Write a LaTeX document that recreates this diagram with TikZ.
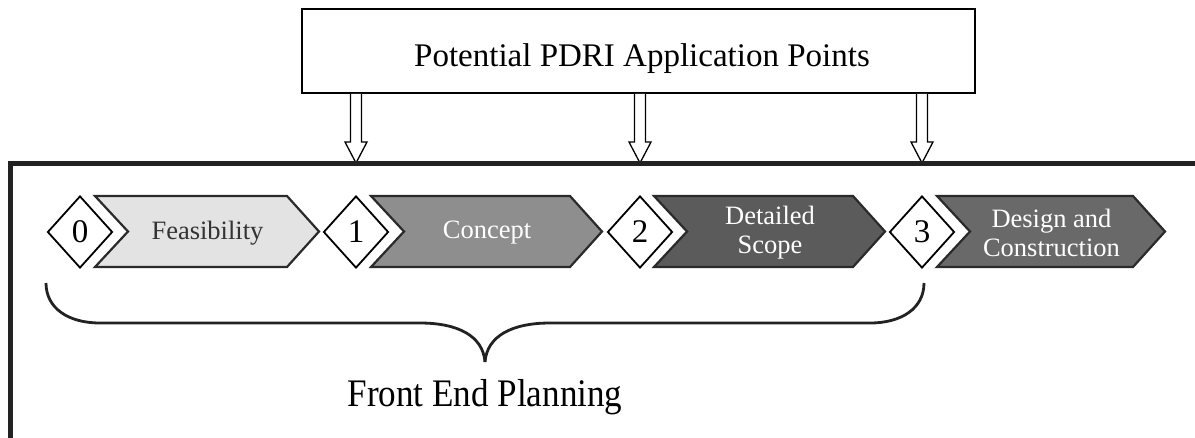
\documentclass[tikz,border=0pt]{standalone}
\usepackage{fontspec}
\setmainfont{Liberation Serif}
\newfontfamily\narrowserif[FakeStretch=0.9]{Liberation Serif}
\usetikzlibrary{shapes.geometric,calc}

\definecolor{phaseline}{HTML}{2A2A2A}
\definecolor{framegray}{HTML}{222222}
\definecolor{feasfill}{HTML}{E3E3E3}
\definecolor{conceptfill}{HTML}{8E8E8E}
\definecolor{scopefill}{HTML}{5B5B5B}
\definecolor{buildfill}{HTML}{696969}
\definecolor{darktext}{HTML}{333333}

% chevron: #1 name, #2 left x, #3 right corner x, #4 fill, #5 text colour, #6 label
\newcommand\phasechevron[6]{%
  \draw[phase, fill=#4] (#2,196) -- (#3,196) -- ({#3+32},231.5) -- (#3,267)
    -- (#2,267) -- ({#2+33},231.5) -- cycle;
  \node[phaselabel, text=#5] (#1) at ({(#2+33+#3)/2},233) {#6};}

% hollow double-shafted arrow from #1 (top of shaft) down to #2 (tip)
\newcommand\hollowarrow[2]{%
  \draw[hollow] ($(#1)+(-5.5,0)$) -- ($(#2)+(-5.5,-21)$) -- ($(#2)+(-11,-21)$)
    -- (#2) -- ($(#2)+(11,-21)$) -- ($(#2)+(5.5,-21)$) -- ($(#1)+(5.5,0)$);}

\begin{document}
\begin{tikzpicture}[x=1pt,y=-1pt,
  phase/.style={draw=phaseline, line width=2.2pt, line join=miter},
  marker/.style={diamond, draw=black, fill=white, line width=1.8pt,
    minimum width=65pt, minimum height=72pt, inner sep=0pt,
    font=\fontsize{33}{33}\selectfont},
  phaselabel/.style={align=center, inner sep=0pt,
    font=\fontsize{26.5}{29}\selectfont},
  hollow/.style={draw=black, fill=white, line width=1.3pt, line join=miter},
  frameline/.style={draw=framegray, line width=5pt, line join=miter},
  bracket/.style={draw=framegray, line width=2.8pt},
]
\useasboundingbox (0,0) rectangle (1195,437);

% title box
\node[draw, line width=1.5pt, minimum width=673pt, minimum height=84pt,
  inner sep=0pt] (pdri) at (638.5,51) {};
\node[anchor=base, inner sep=0pt, font=\fontsize{33}{33}\selectfont]
  (pdrititle) at (642,66) {Potential PDRI Application Points};

% phase markers
\node[marker] (d0) at (80,232) {0};
\node[marker] (d1) at (356,232) {1};
\node[marker] (d2) at (640,232) {2};
\node[marker] (d3) at (922,232) {3};

% phases
\phasechevron{feas}{95}{287}{feasfill}{darktext}{Feasibility}
\phasechevron{concept}{371}{570}{conceptfill}{white}{Concept}
\phasechevron{scope}{654}{853}{scopefill}{white}{Detailed\\Scope}
\phasechevron{build}{937}{1133}{buildfill}{white}{Design and\\Construction}

% frame
\coordinate (ftl) at (10.5,163);
\coordinate (ftr) at (1200,163);
\coordinate (fbl) at (10.5,440);

% application arrows
\foreach \d in {d1,d2,d3}{
  \hollowarrow{pdri.south -| \d}{ftl -| \d}
}

\draw[frameline] (fbl) -- (ftl) -- (ftr);

% front end planning bracket
\coordinate (braceL) at (46,283);
\coordinate (braceR) at (924,283);
\coordinate (braceTip) at (485,362);
\draw[bracket] (braceL) .. controls (46,308) and (68,323) .. (100,323) -- (420,323)
  .. controls (458,323) and (483,336) .. (braceTip);
\draw[bracket] (braceTip) .. controls (487,336) and (512,323) .. (550,323) -- (870,323)
  .. controls (902,323) and (924,308) .. (braceR);
\node[anchor=base, inner sep=0pt, font=\narrowserif\fontsize{39}{39}\selectfont]
  (fep) at (485,406) {Front End Planning};
\end{tikzpicture}
\end{document}
